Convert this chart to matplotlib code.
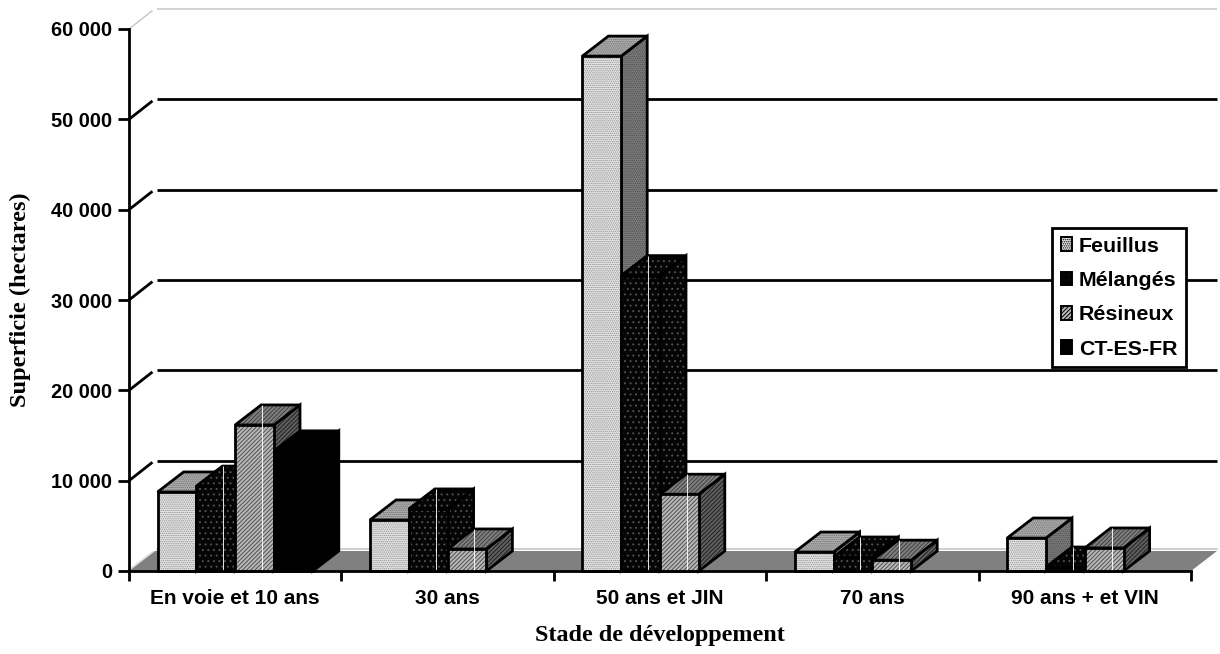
import matplotlib
matplotlib.use("Agg")
import matplotlib.pyplot as plt
from matplotlib.patches import Patch

categories = ["En voie et 10 ans", "30 ans", "50 ans et JIN", "70 ans", "90 ans + et VIN"]
series_names = ["Feuillus", "Mélangés", "Résineux", "CT-ES-FR"]
feuillus = [8750, 5650, 57000, 2100, 3650]
melanges = [9400, 6870, 32700, 1550, 440]
resineux = [16170, 2440, 8500, 1200, 2550]
ct_es_fr = [13300, 0, 0, 0, 0]
y_ticks = [0, 10000, 20000, 30000, 40000, 50000, 60000]
y_labels = ["0", "10 000", "20 000", "30 000", "40 000", "50 000", "60 000"]

W, H = 1220, 654
X0, X1, Y0, Y1 = 129, 1191, 571, 29
fig = plt.figure(figsize=(W / 100, H / 100), dpi=100, facecolor="white")
ax = fig.add_axes([X0 / W, (H - Y0) / H, (X1 - X0) / W, (Y0 - Y1) / H])
ax.set_xlim(0, 5)
ax.set_ylim(0, 60000)
ax.patch.set_visible(False)

ux = (X1 - X0) / 5.0      # px per category
uy = (Y0 - Y1) / 60000.0  # px per unit
DX, DY = 26 / ux, 20 / uy
BW = 38.8 / ux
LW = 2.0
plt.rcParams["hatch.linewidth"] = 0.7


def shade(xs, ys, fc, hatch, hc, z, edge="black", lw=LW):
    ax.fill(xs, ys, facecolor=fc, edgecolor=hc if hatch else "none", hatch=hatch,
            linewidth=0, zorder=z, clip_on=False)
    ax.fill(xs, ys, facecolor="none", edgecolor=edge, linewidth=lw, zorder=z + 0.01,
            clip_on=False, joinstyle="miter")


# back wall, floor
ax.fill([0, 5, 5 + DX, DX], [0, 0, DY, DY], facecolor="#808080", edgecolor="none",
        zorder=1, clip_on=False)
ax.plot([DX + 0.01, 5 + DX], [DY + 200, DY + 200], color="#c8c8c8", lw=1.2, zorder=0.9, clip_on=False)
ax.plot([0.01, DX - 0.01], [300, DY - 100], color="#d8d8d8", lw=1.0, zorder=1.1, clip_on=False)
for t in y_ticks[1:]:
    c, lw = ("#c8c8c8", 1.1) if t == 60000 else ("black", 2.0)
    ax.plot([DX + 0.008, 5 + DX], [t + DY, t + DY], color=c, lw=lw, zorder=1.2,
            clip_on=False, solid_capstyle="butt")
    ax.plot([0, DX - 0.012], [t, t + DY * 0.92], color=c, lw=lw, zorder=1.2,
            clip_on=False, solid_capstyle="butt")

styles = [
    dict(front=("#e8e8e8", "........", "#909090"), top=("#b0b0b0", "........", "#707070"), side=("#808080", "........", "#484848"), line=False),
    dict(front=("#050505", "...", "#505050"), top=("#050505", "...", "#505050"), side=("#050505", "...", "#505050"), line=True),
    dict(front=("#b8b8b8", "////////", "#505050"), top=("#808080", "////////", "#404040"), side=("#606060", "////////", "#202020"), line=True),
    dict(front=("black", None, None), top=("black", None, None), side=("black", None, None), line=False),
]
data = [feuillus, melanges, resineux, ct_es_fr]
z = 2.0
for g in range(len(categories)):
    start = g + 0.5 - 2 * BW
    for s, vals in enumerate(data):
        v = vals[g]
        if v <= 0:
            continue
        x = start + s * BW
        st = styles[s]
        shade([x + BW, x + BW + DX, x + BW + DX, x + BW], [0, DY, v + DY, v], *st["side"], z)
        shade([x, x + BW, x + BW + DX, x + DX], [v, v, v + DY, v + DY], *st["top"], z + 0.02)
        shade([x, x + BW, x + BW, x], [0, 0, v, v], *st["front"], z + 0.04)
        if st["line"]:
            ax.plot([x + DX + 0.004] * 2, [0, v + DY], color="white", lw=0.7, alpha=0.9,
                    zorder=z + 0.06, clip_on=False, solid_capstyle="butt")
        z += 0.1

# axes
for sp in ("top", "right"):
    ax.spines[sp].set_visible(False)
for sp in ("left", "bottom"):
    ax.spines[sp].set_linewidth(2.0)
    ax.spines[sp].set_zorder(50)
ax.set_yticks(y_ticks)
ax.set_yticklabels(y_labels, fontfamily="Liberation Sans", fontweight="bold", fontsize=14.4)
ax.set_xticks(range(6))
ax.set_xticklabels([])
ax.set_xticks([i + 0.5 for i in range(5)], minor=True)
ax.set_xticklabels(categories, minor=True, fontfamily="Liberation Sans", fontweight="bold", fontsize=15)
ax.tick_params(axis="y", length=8, width=2.0, pad=4)
ax.tick_params(axis="x", which="major", length=7, width=2.0)
ax.tick_params(axis="x", which="minor", length=0, pad=13)

fig.text(20 / W, 1 - 300 / H, "Superficie (hectares)", rotation=90, ha="center", va="center",
         fontfamily="Liberation Serif", fontweight="bold", fontsize=17.6)
fig.text(660 / W, 1 - 635 / H, "Stade de développement", ha="center", va="center",
         fontfamily="Liberation Serif", fontweight="bold", fontsize=17.4)

handles = []
for name, st in zip(series_names, styles):
    fc, hatch, hc = st["front"]
    handles.append(Patch(facecolor=fc, hatch=hatch, edgecolor="black", linewidth=1.4, label=name))
leg = fig.legend(handles=handles, loc="upper left", bbox_to_anchor=(1052 / W, 1 - 228 / H),
                 bbox_transform=fig.transFigure, fancybox=False, framealpha=1, edgecolor="black",
                 handlelength=0.55, handleheight=0.6, handletextpad=0.3, labelspacing=0.72,
                 borderpad=0.4, borderaxespad=0,
                 prop={"family": "Liberation Sans", "weight": "bold", "size": 15.4})
leg.get_frame().set_linewidth(2.0)
leg.set_zorder(100)

fig.savefig("out.png", dpi=100)
